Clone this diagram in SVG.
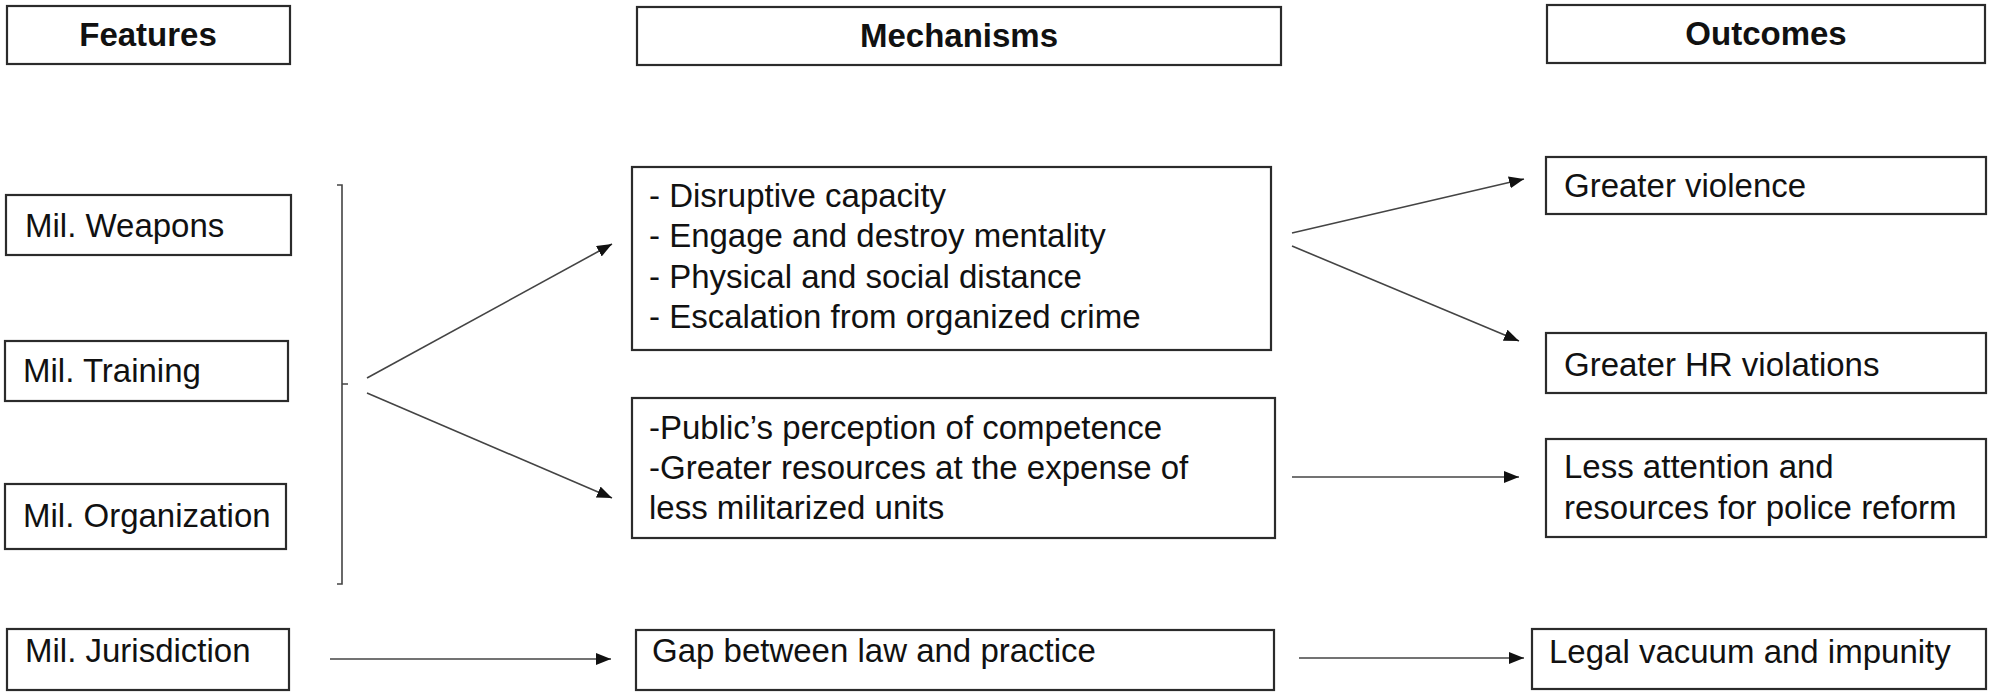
<svg xmlns="http://www.w3.org/2000/svg" width="1989" height="695" viewBox="0 0 1989 695">
<style>
.box{fill:#fff;stroke:#2b2b2b;stroke-width:2.2}
.t{font-family:"Liberation Sans",Arial,sans-serif;font-size:33px;fill:#111}
.h{font-family:"Liberation Sans",Arial,sans-serif;font-size:33px;font-weight:bold;fill:#111;text-anchor:middle}
.c{fill:none;stroke:#444;stroke-width:1.6}
</style>
<defs>
<marker id="ah" markerUnits="userSpaceOnUse" markerWidth="16" markerHeight="12" refX="15" refY="6" orient="auto">
<path d="M0,0 L15,6 L0,12 Z" fill="#111"/>
</marker>
</defs>
<rect width="1989" height="695" fill="#fff"/>

<g id="hdr-features"><rect class="box" x="7" y="6" width="283" height="58"/><text class="h" x="148" y="46">Features</text></g>
<g id="hdr-mechanisms"><rect class="box" x="637" y="7" width="644" height="58"/><text class="h" x="959" y="47">Mechanisms</text></g>
<g id="hdr-outcomes"><rect class="box" x="1547" y="5" width="438" height="58"/><text class="h" x="1766" y="45">Outcomes</text></g>

<g id="f-weapons"><rect class="box" x="6" y="195" width="285" height="60"/><text class="t" x="25" y="237">Mil. Weapons</text></g>
<g id="f-training"><rect class="box" x="5" y="341" width="283" height="60"/><text class="t" x="23" y="382">Mil. Training</text></g>
<g id="f-organization"><rect class="box" x="5" y="484" width="281" height="65"/><text class="t" x="23" y="527">Mil. Organization</text></g>
<g id="f-jurisdiction"><rect class="box" x="7" y="629" width="282" height="61"/><text class="t" x="25" y="662">Mil. Jurisdiction</text></g>

<g id="m-disruptive"><rect class="box" x="632" y="167" width="639" height="183"/>
<text class="t" x="649" y="207">- Disruptive capacity</text>
<text class="t" x="649" y="247">- Engage and destroy mentality</text>
<text class="t" x="649" y="288">- Physical and social distance</text>
<text class="t" x="649" y="328">- Escalation from organized crime</text></g>
<g id="m-perception"><rect class="box" x="632" y="398" width="643" height="140"/>
<text class="t" x="649" y="439">-Public’s perception of competence</text>
<text class="t" x="649" y="479">-Greater resources at the expense of</text>
<text class="t" x="649" y="519">less militarized units</text></g>
<g id="m-gap"><rect class="box" x="636" y="630" width="638" height="60"/><text class="t" x="652" y="662">Gap between law and practice</text></g>

<g id="o-violence"><rect class="box" x="1546" y="157" width="440" height="57"/><text class="t" x="1564" y="197">Greater violence</text></g>
<g id="o-hr"><rect class="box" x="1546" y="333" width="440" height="60"/><text class="t" x="1564" y="376">Greater HR violations</text></g>
<g id="o-attention"><rect class="box" x="1546" y="439" width="440" height="98"/><text class="t" x="1564" y="478">Less attention and</text><text class="t" x="1564" y="519">resources for police reform</text></g>
<g id="o-legal"><rect class="box" x="1532" y="629" width="454" height="60"/><text class="t" x="1549" y="663">Legal vacuum and impunity</text></g>

<g id="connectors">
<path class="c" d="M337,185 H342 V584 H337 M342,384 H348"/>
<line class="c" x1="367" y1="378" x2="612" y2="244" marker-end="url(#ah)"/>
<line class="c" x1="367" y1="393" x2="612" y2="498" marker-end="url(#ah)"/>
<line class="c" x1="330" y1="659" x2="611" y2="659" marker-end="url(#ah)"/>
<line class="c" x1="1292" y1="233" x2="1524" y2="179" marker-end="url(#ah)"/>
<line class="c" x1="1292" y1="246" x2="1519" y2="341" marker-end="url(#ah)"/>
<line class="c" x1="1292" y1="477" x2="1519" y2="477" marker-end="url(#ah)"/>
<line class="c" x1="1299" y1="658" x2="1524" y2="658" marker-end="url(#ah)"/>
</g>
</svg>
